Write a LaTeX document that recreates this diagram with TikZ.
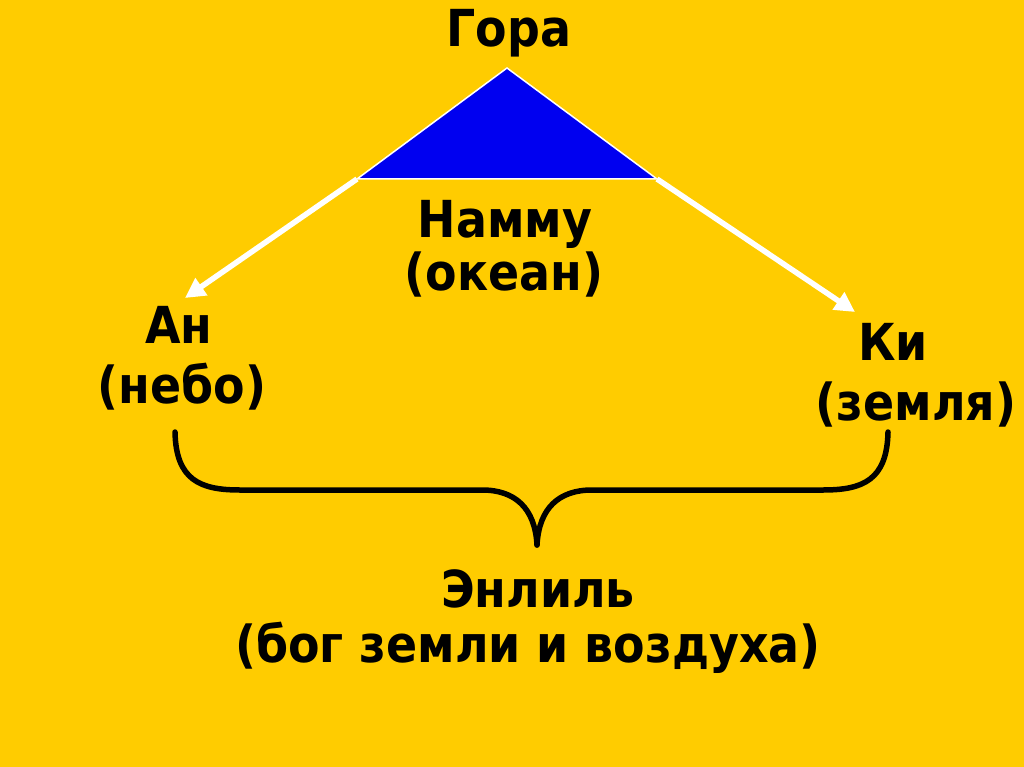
\documentclass[tikz,border=0pt]{standalone}
\usepackage{fontspec}
\setmainfont{DejaVu Sans}[FakeStretch=0.9]
\usetikzlibrary{arrows.meta}
\definecolor{bgyellow}{RGB}{255,204,0}
\definecolor{mountblue}{RGB}{0,0,240}
\begin{document}
\begin{tikzpicture}[x=1pt,y=-1pt,
  lbl/.style={anchor=base,inner sep=0pt,font=\fontsize{51}{60}\selectfont\bfseries},
  whitearrow/.style={draw=white,line width=5.5pt,-{Triangle[length=20pt,width=20pt]}},
  brace/.style={draw=black,line width=5.5pt,line cap=round}]
\fill[bgyellow] (0,0) rectangle (1024,767);

% mountain
\coordinate (peak) at (507,68);
\coordinate (baseL) at (357,179);
\coordinate (baseR) at (657,179);
\filldraw[fill=mountblue,draw=white,line width=1.5pt] (peak) -- (baseR) -- (baseL) -- cycle;
\node[lbl] (gora) at (509,47) {Гора};
\node[lbl] (nammu) at (505,237) {Намму};
\node[lbl] (ocean) at (504,290) {(океан)};

% an and ki
\node[lbl] (an) at (179,343) {Ан};
\node[lbl] (sky) at (182,403) {(небо)};
\node[lbl] (ki) at (893,360) {Ки};
\node[lbl] (earth) at (916,420) {(земля)};
\coordinate (tipL) at (185,298);
\coordinate (tipR) at (855,312);
\draw[whitearrow] (baseL) -- (tipL);
\draw[whitearrow] (baseR) -- (tipR);

% brace
\coordinate (braceL) at (175,432);
\coordinate (braceR) at (888,432);
\coordinate (braceTip) at (537,545);
\draw[brace] (braceL) .. controls (176,480) and (200,490) .. (240,490) -- (482,490)
  .. controls (515,490) and (535,508) .. (braceTip);
\draw[brace] (braceR) .. controls (887,480) and (863,490) .. (823,490) -- (592,490)
  .. controls (559,490) and (539,508) .. (braceTip);
\node[lbl] (enlil) at (538,607) {Энлиль};
\node[lbl] (god) at (528,662) {(бог земли и воздуха)};
\end{tikzpicture}
\end{document}
